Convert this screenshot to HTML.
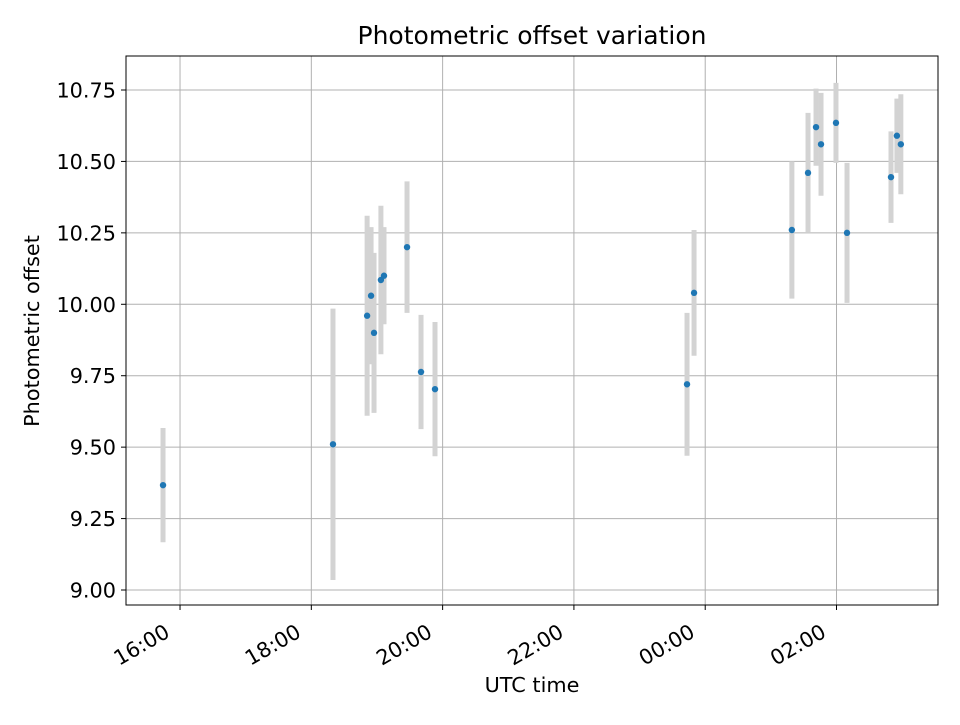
<!DOCTYPE html>
<html><head><meta charset="utf-8"><style>
body{margin:0;background:#fff}
svg text{font-family:"DejaVu Sans","Liberation Sans",sans-serif;fill:#000}
</style></head><body>
<svg id="chart" width="960" height="720" xmlns="http://www.w3.org/2000/svg">
<rect width="960" height="720" fill="#fff"/>
<g id="grid"></g><g id="bars"></g><g id="pts"></g><g id="axes"></g>
<text x="532" y="44" text-anchor="middle" font-size="25">Photometric offset variation</text>
<text x="532" y="692" text-anchor="middle" font-size="20.8">UTC time</text>
<text transform="translate(39,331) rotate(-90)" text-anchor="middle" font-size="20.8">Photometric offset</text>
</svg>
<script>
const times = [15.741,18.33,18.85,18.91,18.955,19.06,19.107,19.458,19.671,19.884,23.723,23.83,25.32,25.566,25.688,25.764,25.992,26.16,26.83,26.92,26.98];
const offsets = [9.367,9.51,9.96,10.03,9.90,10.085,10.10,10.20,9.763,9.703,9.72,10.04,10.26,10.46,10.62,10.56,10.635,10.25,10.445,10.59,10.56];
const errors = [0.20,0.475,0.35,0.24,0.28,0.26,0.17,0.23,0.20,0.235,0.25,0.22,0.24,0.21,0.135,0.18,0.14,0.245,0.16,0.13,0.175];
const xTicks = [16,18,20,22,24,26];
const xTickLabels = ["16:00","18:00","20:00","22:00","00:00","02:00"];
const yTicks = [9.0,9.25,9.5,9.75,10.0,10.25,10.5,10.75];

const L=126,R=938,T=56,B=605;
const xMin=15.177,xMax=27.546,yMin=8.9475,yMax=10.869;
const xs=v=>L+(v-xMin)/(xMax-xMin)*(R-L);
const ys=v=>B-(v-yMin)/(yMax-yMin)*(B-T);
const NS="http://www.w3.org/2000/svg";
function mk(tag,parent,attrs){const e=document.createElementNS(NS,tag);for(const k in attrs)e.setAttribute(k,attrs[k]);document.getElementById(parent).appendChild(e);return e;}

xTicks.forEach((t,i)=>{
  const x=xs(t);
  const g=mk('line','grid',{x1:x,x2:x,y1:T,y2:B,stroke:'#b0b0b0','stroke-width':1});
  
  
  const tk=mk('line','axes',{x1:x,x2:x,y1:B,y2:B+5,stroke:'#000','stroke-width':1});
  
  
  const tx=mk('text','axes',{transform:`translate(${x-9},${B+31}) rotate(-30)`,'text-anchor':'end','font-size':20.8});
  tx.textContent=xTickLabels[i];
  
  
});
yTicks.forEach(t=>{
  const y=ys(t);
  const g=mk('line','grid',{x1:L,x2:R,y1:y,y2:y,stroke:'#b0b0b0','stroke-width':1});
  
  
  const tk=mk('line','axes',{x1:L-5,x2:L,y1:y,y2:y,stroke:'#000','stroke-width':1});
  
  
  const tx=mk('text','axes',{x:L-10,y:y+7.5,'text-anchor':'end','font-size':20.8});
  tx.textContent=t.toFixed(2);
  
  
});
times.forEach((t,i)=>{
  const x=xs(t);
  const b=mk('line','bars',{x1:x,x2:x,y1:ys(offsets[i]-errors[i]),y2:ys(offsets[i]+errors[i]),stroke:'#d3d3d3','stroke-width':5});
  
  
  const p=mk('circle','pts',{cx:x,cy:ys(offsets[i]),r:3.2,fill:'#1f77b4'});
  
  
});
const fr=mk('rect','axes',{x:L,y:T,width:R-L,height:B-T,fill:'none',stroke:'#000','stroke-width':1});


</script>
</body></html>
